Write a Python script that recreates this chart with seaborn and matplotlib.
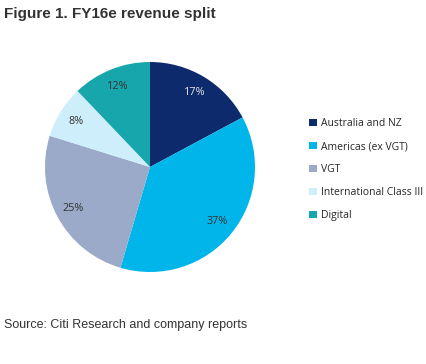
import matplotlib
matplotlib.use("Agg")
import matplotlib.pyplot as plt
import seaborn as sns
from matplotlib.patches import Patch

segments = ["Australia and NZ", "Americas (ex VGT)", "VGT", "International Class III", "Digital"]
shares = [17, 37, 25, 8, 12]
colors = ["#0c2a6c", "#00b5ea", "#9aaac8", "#cdeefa", "#18a6ad"]
label_colors = ["#e6e6e6", "#333333", "#333333", "#333333", "#333333"]

sns.set_theme(style="white")
palette = sns.color_palette(colors)

fig = plt.figure(figsize=(4.26, 3.64), dpi=100)
ax = fig.add_axes([150 / 426 - 0.25, 1 - 167 / 364 - 105 / 364, 0.5, 210 / 364])

wedges, texts, autotexts = ax.pie(
    shares, colors=palette, startangle=90, counterclock=False,
    autopct="%d%%", pctdistance=0.83, radius=1,
    wedgeprops={"linewidth": 0},
    textprops={"fontsize": 7.8, "family": ["Open Sans", "DejaVu Sans"]},
)
for t, c in zip(autotexts, label_colors):
    t.set_color(c)
ax.set_aspect("equal")
ax.set_xlim(-1, 1)
ax.set_ylim(-1, 1)

handles = [Patch(facecolor=c, edgecolor="none") for c in palette]
fig.legend(handles, segments, loc="upper left", bbox_to_anchor=(300 / 426, 1 - 109 / 364),
           frameon=False, handlelength=0.7, handleheight=0.7,
           handletextpad=0.4, labelspacing=1.15, prop={"family": ["Open Sans", "DejaVu Sans"], "size": 7.5})

fig.text(4 / 426, 1 - 14 / 364, "Figure 1. FY16e revenue split", fontsize=11, fontweight="bold",
         color="#333333", va="center", family=["Liberation Sans Narrow", "Liberation Sans", "DejaVu Sans"])
fig.text(4 / 426, 1 - 325 / 364, "Source: Citi Research and company reports", fontsize=9,
         color="#333333", va="center", family=["Liberation Sans", "DejaVu Sans"])

fig.savefig("out.png", dpi=100)
